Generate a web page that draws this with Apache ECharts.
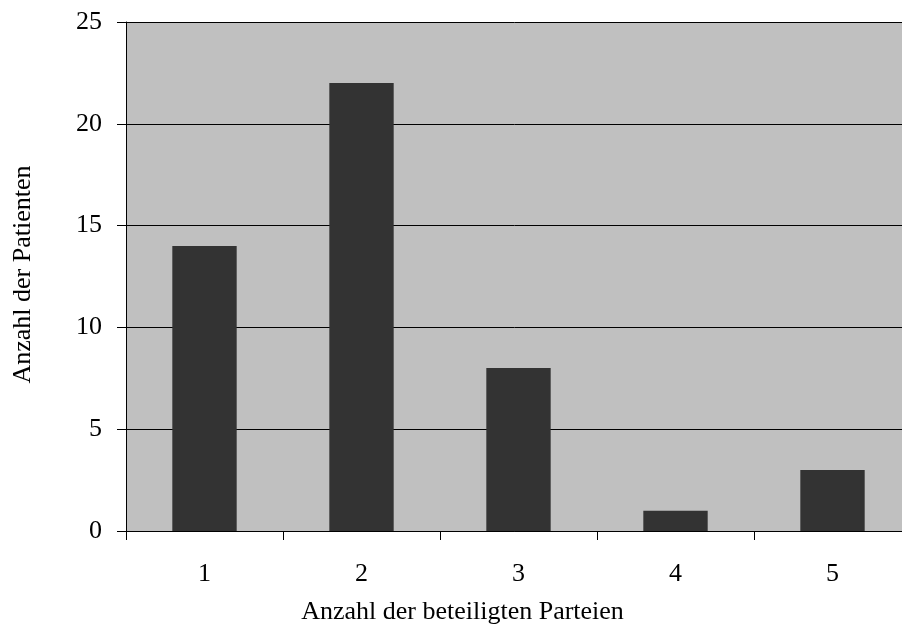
<!DOCTYPE html>
<html>
<head>
<meta charset="utf-8">
<script src="https://cdn.jsdelivr.net/npm/echarts@6/dist/echarts.min.js"></script>
<style>
html,body{margin:0;padding:0;background:#fff;}
#chart{width:902px;height:639px;}
</style>
</head>
<body>
<div id="chart"></div>
<script>
// Number of involved parties vs. number of patients
const categories = ['1', '2', '3', '4', '5'];
const patientCounts = [14, 22, 8, 1, 3];
const yTicks = { min: 0, max: 25, interval: 5 };

const font = '"Liberation Serif", "Times New Roman", serif';
const chart = echarts.init(document.getElementById('chart'), null, { renderer: 'canvas' });
chart.setOption({
  animation: false,
  backgroundColor: '#ffffff',
  grid: {
    left: 126, top: 22, width: 785, height: 509,
    outerBoundsMode: 'none',
    containLabel: false,
    show: true, backgroundColor: '#c0c0c0', borderWidth: 0
  },
  xAxis: {
    type: 'category',
    data: categories,
    name: 'Anzahl der beteiligten Parteien',
    nameLocation: 'middle',
    nameGap: 68,
    nameTextStyle: { fontFamily: font, fontSize: 26, color: '#000', padding: [0, 112, 0, 0] },
    axisLine: { lineStyle: { color: '#000', width: 1 } },
    axisTick: { show: true, alignWithLabel: false, length: 9, lineStyle: { color: '#000' } },
    axisLabel: { fontFamily: font, fontSize: 26, color: '#000', margin: 30 },
    splitLine: { show: false }
  },
  yAxis: {
    type: 'value',
    min: yTicks.min, max: yTicks.max, interval: yTicks.interval,
    name: 'Anzahl der Patienten',
    nameLocation: 'middle',
    nameGap: 90,
    nameTextStyle: { fontFamily: font, fontSize: 26, color: '#000', padding: [0, 0, 0, 4] },
    axisLine: { show: true, lineStyle: { color: '#000', width: 1 } },
    axisTick: { show: true, length: 9, lineStyle: { color: '#000' } },
    axisLabel: { fontFamily: font, fontSize: 26, color: '#000', margin: 24 },
    splitLine: { show: true, lineStyle: { color: '#000', width: 1 } }
  },
  series: [{
    type: 'bar',
    data: patientCounts,
    barWidth: '41%',
    itemStyle: { color: '#333333' }
  }]
});
</script>
</body>
</html>
